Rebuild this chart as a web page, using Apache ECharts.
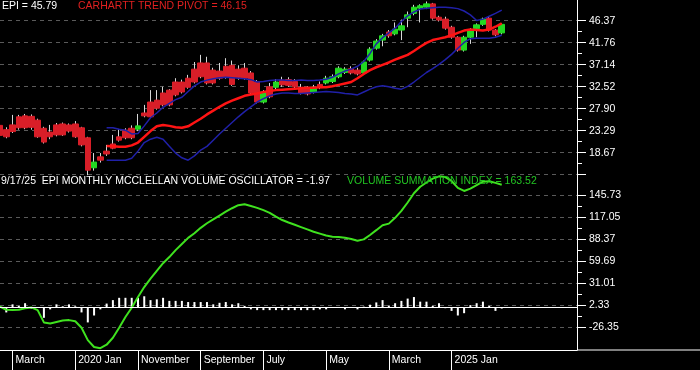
<!DOCTYPE html>
<html><head><meta charset="utf-8">
<script src="https://cdn.jsdelivr.net/npm/echarts@6/dist/echarts.min.js"></script>
<style>html,body{margin:0;padding:0;background:#000;}#c{width:700px;height:370px;}</style>
</head><body><div id="c"></div>
<script>
// ---------- categories (monthly) ----------
const months = [
 '2019-01','2019-02','2019-03','2019-04','2019-05','2019-06','2019-07','2019-08','2019-09','2019-10','2019-11','2019-12',
 '2020-01','2020-02','2020-03','2020-04','2020-05','2020-06','2020-07','2020-08','2020-09','2020-10','2020-11','2020-12',
 '2021-01','2021-02','2021-03','2021-04','2021-05','2021-06','2021-07','2021-08','2021-09','2021-10','2021-11','2021-12',
 '2022-01','2022-02','2022-03','2022-04','2022-05','2022-06','2022-07','2022-08','2022-09','2022-10','2022-11','2022-12',
 '2023-01','2023-02','2023-03','2023-04','2023-05','2023-06','2023-07','2023-08','2023-09','2023-10','2023-11','2023-12',
 '2024-01','2024-02','2024-03','2024-04','2024-05','2024-06','2024-07','2024-08','2024-09','2024-10','2024-11','2024-12',
 '2025-01','2025-02','2025-03','2025-04','2025-05','2025-06','2025-07','2025-08','2025-09','2025-10','2025-11','2025-12',
 '2026-01','2026-02','2026-03','2026-04','2026-05','2026-06','2026-07','2026-08','2026-09'
];
const xTickMonths = ['2019-03','2020-01','2020-11','2021-09','2022-07','2023-05','2024-03','2025-01'];

// ---------- price candles ----------
const open = [24.4,23.5,24.5,26.2,26.4,26.3,25.5,23.8,23.0,24.5, 24.7,24.5,24.7,23.9,21.8,15.5,17.8,19.0,20.5,22.0,
 23.4,23.8,23.6,27.0,29.3,29.7,31.2,31.8,33.5,33.5, 34.3,36.2,37.5,37.5,36.0,35.8,36.8,37.0,36.2,36.4,
 35.4,33.5,29.3,32.5,32.4,33.9,34.0,33.6,32.4,32.1, 31.4,33.0,33.3,33.6,34.6,35.5,36.3,36.0,35.4,38.1,
 40.6,42.3,44.0,43.6,44.4,46.9,47.9,49.0,49.2,49.9, 47.1,46.7,45.0,42.9,40.2,42.9,44.7,45.6,46.9,44.4, 43.8];
const close = [22.3,22.0,23.1,23.9,23.9,24.0,22.0,20.9,22.0,22.4, 22.4,23.2,22.0,20.3,15.0,16.7,17.1,18.4,19.6,21.3,
 21.8,21.8,24.3,26.4,26.2,28.0,28.7,28.7,30.8,31.4, 32.4,33.5,34.6,33.3,33.3,34.3,34.5,33.0,34.4,34.3,
 31.2,29.3,31.4,30.4,33.5,32.9,32.8,32.5,31.2,31.0, 32.4,32.3,34.3,34.6,36.4,36.2,35.4,35.2,37.7,40.4,
 42.1,43.2,43.2,44.6,45.3,47.6,49.2,49.5,49.9,46.9, 46.5,44.8,42.9,40.2,42.9,44.4,45.5,46.7,44.4,43.4, 45.6];
const low = [21.8,21.7,22.8,23.5,23.6,23.5,21.8,20.6,21.5,22.1, 22.2,22.9,21.8,20.0,13.96,14.9,16.6,18.0,19.4,21.0,
 21.5,21.5,23.2,26.1,26.0,27.7,28.4,28.4,30.5,31.1, 32.1,33.2,34.3,33.0,33.0,34.0,34.2,32.7,34.0,34.0,
 30.9,29.0,29.0,30.1,32.0,32.5,32.5,32.2,30.9,30.7, 31.1,32.0,33.0,33.3,34.3,35.2,35.1,34.9,35.1,37.8,
 40.3,41.0,42.8,43.3,42.3,45.0,47.5,46.0,48.8,46.6, 46.2,44.5,42.6,39.9,39.9,41.5,42.9,45.3,44.1,43.1, 43.5];
const high = [24.8,24.0,26.6,26.6,26.8,26.7,25.8,24.1,24.5,24.9, 25.0,24.8,25.3,24.1,22.0,18.6,18.6,20.3,22.4,23.6,
 23.8,24.4,26.8,28.7,31.8,31.8,32.5,32.0,34.3,34.0, 35.0,37.7,39.2,38.8,36.5,37.5,38.5,38.0,37.0,37.5,
 35.8,33.9,31.8,33.3,34.1,34.6,34.5,34.1,33.1,32.6, 32.9,33.6,34.8,35.1,36.8,36.6,36.8,36.5,38.0,40.8,
 42.5,43.6,44.4,46.0,46.6,48.3,49.7,49.8,50.4,50.1, 47.4,47.2,45.3,43.1,43.2,44.8,45.8,47.0,47.2,44.6, 45.8];

// ---------- overlays (start at 2020-06) ----------
const pivot = [null,null,null,null,null,null,null,null,null,null,null,null,null,null,null,null,null,
 20.1,20.0,19.9,19.9,20.2,20.8,22.0,23.2,24.2,24.5, 24.3,24.0,23.9,24.2,25.0,25.8,26.7,27.5,28.3,29.0,
 29.6,30.1,30.6,30.9,31.1,31.4,31.6,31.8,31.9,32.0, 32.1,32.2,32.3,32.3,32.4,32.4,32.6,32.9,33.2,33.5,
 34.3,35.2,36.0,36.6,37.1,37.6,38.2,38.7,39.2,40.0, 40.9,41.7,42.3,42.6,42.9,43.3,43.8,44.3,44.5,44.4,
 44.3,44.5,45.1,45.8];
const upperBand = [null,null,null,null,null,null,null,null,null,null,null,null,null,null,null,null,null,
 23.9,23.9,23.6,23.4,22.6,22.7,24.3,26.0,27.0,28.2, 29.0,29.8,30.3,31.5,32.7,33.5,33.9,34.2,34.4,34.5,
 34.4,34.3,34.2,34.0,33.5,33.6,33.8,33.9,33.9,33.8, 33.8,33.9,33.8,33.8,33.9,34.1,34.5,35.2,35.8,36.2,
 36.8,37.8,39.5,41.5,42.8,43.8,44.8,46.2,47.4,48.2, 48.8,49.0,49.1,49.2,49.2,49.1,48.9,48.4,47.6,46.4,
 46.7,47.3,47.9,48.6];
const lowerBand = [null,null,null,null,null,null,null,null,null,null,null,null,null,null,null,null,null,
 17.1,17.1,17.1,17.1,17.5,19.0,20.8,21.5,21.9,21.5, 20.0,18.6,17.6,17.1,18.0,19.2,20.0,21.3,22.6,23.8,
 25.0,26.2,27.3,28.3,29.3,30.0,30.6,31.0,31.2,31.2, 31.1,31.1,31.2,31.3,31.4,31.5,31.4,31.3,31.1,31.0,
 30.8,31.4,32.0,32.5,32.7,32.5,32.2,32.0,32.6,33.5, 34.5,35.5,36.3,37.2,38.2,39.3,40.6,41.8,42.6,42.7,
 42.7,42.7,42.9,43.3];

// ---------- volume indicators ----------
const vsi = [0.4,-3.5,-3.9,-3.5,-1.5,-0.5,-4,-20,-21.5,-19.5, -17.5,-17,-18.5,-27,-43,-52,-53.5,-49,-40,-27,
 -13,-1,13,26,37,47,57,65,74,82, 90,96,103,109,114,119,124,128.5,132.5,133.6,
 131.5,129,126,122.5,117.5,113.2,110,107,104,101, 98,95.5,93,91.5,91,90,88.5,86.3,88,93.7,
 100,106.5,108.5,116,125,136,148,156.5,162,167, 170,169,164,155,151,154,158.5,163,163.5,161.5, 159];
const osc = [1,-7,3.5,1.5,5,-2,-1,-14,-3,3.5, 1,3.5,1,-7,-20,-11,-3,4.5,9,12,
 12,12,12,14,9,10,12,8,8,8, 6.5,6.5,6.5,6.5,3.5,5.5,6.5,3.5,5,1.5,
 -3,-4,-4,-4,-4,-4,-4,-4,-4,-4, -4,-3,-3,-1,0,-3,0,-3,0.5,3,
 6,9,2,5,8,11,13,7,7,1.5, 5,-1.5,-5,-11,-8,2.5,5,7,1.5,-5, -1.97];

// ---------- axis tick values ----------
const priceTicks = [46.37,41.76,37.14,32.52,27.90,23.29,18.67,14.05];
const priceLabels = [46.37,41.76,37.14,32.52,27.90,23.29,18.67];
const vsiTicks = [145.73,117.05,88.37,59.69,31.01,2.33,-26.35];

const FONT = 'Arial, "Liberation Sans", sans-serif';
const FS = 10.5;
const MONTH_NAMES = ['Jan','February','March','April','May','June','July','August','September','October','November','December'];
function monthLabel(m){ const p = m.split('-'); return p[1]==='01' ? p[0]+' Jan' : MONTH_NAMES[+p[1]-1]; }
function mids(arr){ const r=[]; for(let i=0;i<arr.length-1;i++) r.push((arr[i]+arr[i+1])/2); return r; }

const wickData = open.map((o,i)=>[o, close[i], low[i], high[i]]);
const bodyData = open.map((o,i)=>[o, close[i], Math.min(o,close[i]), Math.max(o,close[i])]);

const RED='#d81e28', GREEN='#22d822';
const chart = echarts.init(document.getElementById('c'));
const topMin=13.99, topMax=50.71, botMin=-55.88, botMax=175.65;
const tickIsShown = (i, v) => xTickMonths.indexOf(v) >= 0;

chart.setOption({
 animation:false,
 backgroundColor:'#000',
 title:[
  {text:'EPI = 45.79', left:2, top:1, padding:0, textStyle:{color:'#fff', fontSize:FS, fontWeight:'normal', fontFamily:FONT}},
  {text:'CARHARTT TREND PIVOT = 46.15', left:78, top:1, padding:0, textStyle:{color:'#e02020', fontSize:FS, fontWeight:'normal', fontFamily:FONT}},
  {text:'9/17/25  EPI MONTHLY MCCLELLAN VOLUME OSCILLATOR = -1.97', left:1, top:176, padding:0, textStyle:{color:'#fff', fontSize:FS, fontWeight:'normal', fontFamily:FONT}},
  {text:'VOLUME SUMMATION INDEX = 163.52', left:347, top:176, padding:0, textStyle:{color:'#22c422', fontSize:FS, fontWeight:'normal', fontFamily:FONT}}
 ],
 grid:[
  {left:0, width:577, top:0, height:175},
  {left:0, width:577, top:172, height:178}
 ],
 xAxis:[
  {type:'category', gridIndex:0, data:months, boundaryGap:false,
   axisLine:{show:false}, axisTick:{show:false}, axisLabel:{show:false}, splitLine:{show:false}},
  {type:'category', gridIndex:1, data:months, boundaryGap:false,
   axisLine:{show:true, onZero:false, lineStyle:{color:'#fff', width:1}},
   axisTick:{show:true, length:20, interval:tickIsShown, lineStyle:{color:'#fff'}},
   axisLabel:{show:true, interval:tickIsShown, formatter:monthLabel, color:'#fff', fontSize:FS, fontFamily:FONT, align:'left', margin:5, padding:[0,0,0,3]},
   splitLine:{show:false}}
 ],
 yAxis:[
  {type:'value', gridIndex:0, position:'right', min:topMin, max:topMax,
   axisLine:{show:true, lineStyle:{color:'#fff'}},
   axisTick:{show:true, length:9, customValues:priceTicks, lineStyle:{color:'#fff'}},
   axisLabel:{show:true, customValues:priceLabels, formatter:v=>Number(v).toFixed(2), color:'#fff', fontSize:FS, fontFamily:FONT, margin:12},
   splitLine:{show:true, lineStyle:{color:'#5a5a5a', type:[4,4], width:1}}},
  {type:'value', gridIndex:0, position:'right', min:topMin, max:topMax,
   axisLine:{show:false}, axisTick:{show:true, length:5, customValues:mids(priceTicks), lineStyle:{color:'#fff'}},
   axisLabel:{show:false}, splitLine:{show:false}},
  {type:'value', gridIndex:1, position:'right', min:botMin, max:botMax,
   axisLine:{show:true, lineStyle:{color:'#fff'}},
   axisTick:{show:true, length:9, customValues:vsiTicks, lineStyle:{color:'#fff'}},
   axisLabel:{show:true, customValues:vsiTicks, formatter:v=>Number(v).toFixed(2), color:'#fff', fontSize:FS, fontFamily:FONT, margin:12},
   splitLine:{show:true, lineStyle:{color:'#5a5a5a', type:[4,4], width:1}}},
  {type:'value', gridIndex:1, position:'right', min:botMin, max:botMax,
   axisLine:{show:false}, axisTick:{show:true, length:5, customValues:mids(vsiTicks), lineStyle:{color:'#fff'}},
   axisLabel:{show:false}, splitLine:{show:false}}
 ],
 graphic:[
  {type:'line', shape:{x1:577, y1:350, x2:700, y2:350}, style:{stroke:'#fff', lineWidth:1}, silent:true}
 ],
 series:[
  {type:'candlestick', name:'wick', xAxisIndex:0, yAxisIndex:0, data:wickData, barWidth:1,
   itemStyle:{color:'#d8d8d8', color0:'#d8d8d8', borderColor:'#d8d8d8', borderColor0:'#d8d8d8', borderWidth:1}, silent:true},
  {type:'candlestick', name:'EPI', xAxisIndex:0, yAxisIndex:0, data:bodyData, barWidth:6,
   itemStyle:{color:GREEN, color0:RED, borderColor:GREEN, borderColor0:RED, borderWidth:1}, silent:true},
  {type:'line', name:'upper', xAxisIndex:0, yAxisIndex:0, data:upperBand, showSymbol:false, symbol:'none',
   lineStyle:{color:'#2020a8', width:1.5}, silent:true},
  {type:'line', name:'lower', xAxisIndex:0, yAxisIndex:0, data:lowerBand, showSymbol:false, symbol:'none',
   lineStyle:{color:'#2020a8', width:1.5}, silent:true},
  {type:'line', name:'pivot', xAxisIndex:0, yAxisIndex:0, data:pivot, showSymbol:false, symbol:'none',
   lineStyle:{color:'#ff1414', width:2.5}, silent:true},
  {type:'bar', name:'osc', xAxisIndex:1, yAxisIndex:2, data:osc, barWidth:2,
   itemStyle:{color:'#ffffff'}, silent:true,
   markLine:{silent:true, symbol:'none', label:{show:false}, lineStyle:{color:'#fff', type:'solid', width:1}, data:[{yAxis:0}]}},
  {type:'line', name:'vsi', xAxisIndex:1, yAxisIndex:2, data:vsi, showSymbol:false, symbol:'none',
   lineStyle:{color:'#3fe21f', width:2}, silent:true}
 ]
});
</script>
</body></html>
